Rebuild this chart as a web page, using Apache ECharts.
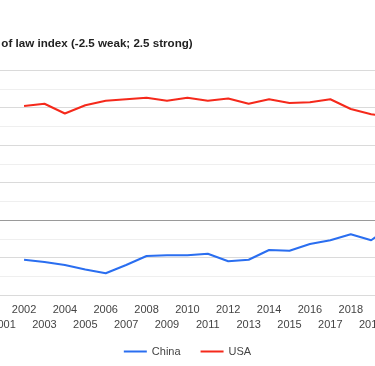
<!DOCTYPE html>
<html>
<head>
<meta charset="utf-8">
<script src="https://cdn.jsdelivr.net/npm/echarts@6/dist/echarts.min.js"></script>
<style>
html,body{margin:0;padding:0;background:#fff;}
#chart{width:375px;height:366px;}
</style>
</head>
<body>
<div id="chart"></div>
<script>
const titleText = 'Rule of law index (-2.5 weak; 2.5 strong)';
const years = [2002, 2003, 2004, 2005, 2006, 2007, 2008, 2009, 2010, 2011, 2012, 2013, 2014, 2015, 2016, 2017, 2018, 2019, 2020];
const china = [-0.53, -0.56, -0.60, -0.66, -0.71, -0.60, -0.48, -0.47, -0.47, -0.45, -0.55, -0.53, -0.40, -0.41, -0.32, -0.27, -0.19, -0.27, -0.08];
const usa = [1.52, 1.55, 1.42, 1.53, 1.59, 1.61, 1.63, 1.59, 1.63, 1.59, 1.62, 1.55, 1.61, 1.56, 1.57, 1.61, 1.48, 1.41, 1.37];
const seriesNames = ['China', 'USA'];
const colors = ['#2a6ef0', '#f5291b'];

const chart = echarts.init(document.getElementById('chart'), null, {renderer: 'canvas'});
const pairs = arr => years.map((y, i) => [y, arr[i]]);

chart.setOption({
  animation: false,
  backgroundColor: '#fff',
  title: {
    text: titleText,
    left: -27,
    top: 38,
    padding: 0,
    textStyle: {fontFamily: 'Liberation Sans, Arial, sans-serif', fontSize: 11.6, fontWeight: 'bold', color: '#222'}
  },
  legend: {
    data: seriesNames,
    left: 'center',
    top: 341,
    icon: 'rect',
    itemWidth: 23,
    itemHeight: 2,
    itemGap: 20,
    textStyle: {fontFamily: 'Liberation Sans, Arial, sans-serif', fontSize: 11, color: '#444'}
  },
  grid: {left: -16.8, top: 70, width: 408.4, height: 225, containLabel: false, outerBoundsMode: 'none'},
  xAxis: {
    type: 'value',
    min: 2000,
    max: 2020,
    interval: 1,
    axisLine: {show: false},
    axisTick: {show: false},
    splitLine: {show: false},
    axisLabel: {
      margin: 7,
      fontFamily: 'Liberation Sans, Arial, sans-serif',
      fontSize: 11,
      color: '#444',
      lineHeight: 15,
      formatter: v => (v % 2 === 1 ? '\n' + v : String(v))
    }
  },
  yAxis: {
    type: 'value',
    min: -1,
    max: 2,
    interval: 0.5,
    axisLine: {show: false},
    axisTick: {show: false},
    axisLabel: {show: false},
    splitLine: {lineStyle: {color: '#dadada', width: 1}},
    minorTick: {show: false, splitNumber: 2},
    minorSplitLine: {show: true, lineStyle: {color: '#efefef', width: 1}}
  },
  series: [
    {
      name: seriesNames[0],
      type: 'line',
      data: pairs(china),
      showSymbol: false,
      symbol: 'none',
      lineStyle: {color: colors[0], width: 2},
      itemStyle: {color: colors[0]},
      markLine: {
        silent: true,
        symbol: 'none',
        label: {show: false},
        lineStyle: {color: '#9a9a9a', width: 1, type: 'solid'},
        data: [{yAxis: 0}]
      }
    },
    {
      name: seriesNames[1],
      type: 'line',
      data: pairs(usa),
      showSymbol: false,
      symbol: 'none',
      lineStyle: {color: colors[1], width: 2},
      itemStyle: {color: colors[1]}
    }
  ]
});
</script>
</body>
</html>
